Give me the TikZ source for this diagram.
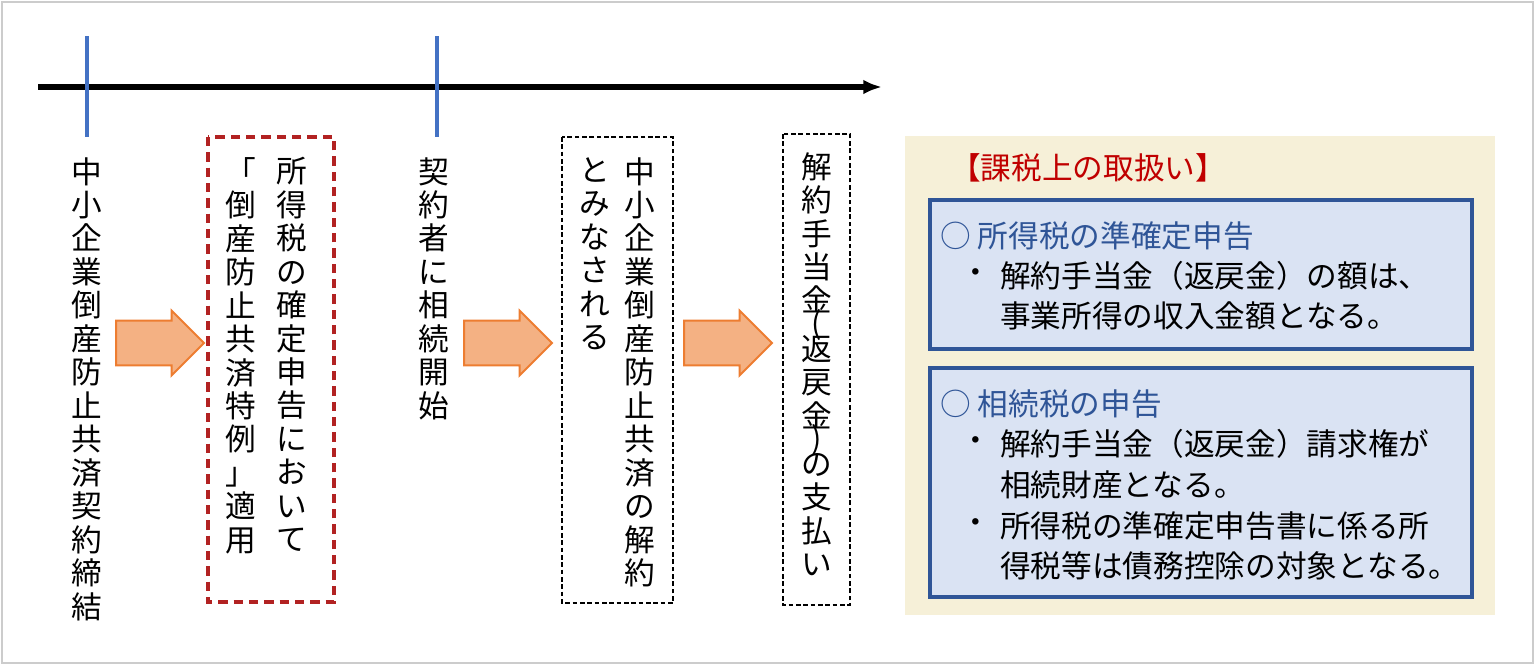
\documentclass[tikz,border=0pt]{standalone}
\usepackage{fontspec}
\setmainfont{Noto Sans CJK JP}
\usetikzlibrary{shapes.arrows,arrows.meta}
\definecolor{org}{HTML}{ED7D31}
\definecolor{orgf}{HTML}{F4B183}
\definecolor{tblue}{HTML}{4472C4}
\definecolor{dred}{HTML}{B22222}
\definecolor{beige}{HTML}{F6F0D8}
\definecolor{bfill}{HTML}{DAE3F3}
\definecolor{bbord}{HTML}{2F5597}
\definecolor{titred}{HTML}{C00000}
\begin{document}
\begin{tikzpicture}[x=0.75pt,y=-0.75pt,
  vt/.style={anchor=north,inner sep=0pt,align=center,font=\fontsize{23}{25.1}\selectfont},
  ht/.style={anchor=west,inner sep=0pt,font=\fontsize{23}{28}\selectfont},
  fat/.style={single arrow,draw=org,fill=orgf,line width=1.5pt,minimum width=47pt,minimum height=66pt,single arrow head extend=7.5pt,inner xsep=0pt,inner ysep=16pt,anchor=west},
  tk/.style={draw=tblue,line width=2.6pt},
  ibox/.style={draw=bbord,fill=bfill,line width=2.6pt},
  bdash/.style={line width=2.2pt,dash pattern=on 3.5pt off 2pt}]
\useasboundingbox (0,0) rectangle (1535,665);
\draw[gray!40,line width=0.8pt] (2,2) rectangle (1533,663);
% timeline
\coordinate (t0) at (38,87); \coordinate (t1) at (882,87);
\draw[line width=4pt,-{Latex[length=14pt,width=11pt]}] (t0) -- (t1);
\coordinate (k1a) at (87,36); \coordinate (k1b) at (87,137);
\coordinate (k2a) at (437,36); \coordinate (k2b) at (437,137);
\draw[tk] (k1a) -- (k1b);
\draw[tk] (k2a) -- (k2b);
% column 1
\node[vt] (c1) at (87,157) {中\\小\\企\\業\\倒\\産\\防\\止\\共\\済\\契\\約\\締\\結};
% box 2
\draw[draw=dred,line width=2.6pt,dash pattern=on 7pt off 4.5pt] (208,137) rectangle (334,602);
\node[vt] (c2a) at (292,157) {所\\得\\税\\の\\確\\定\\申\\告\\に\\お\\い\\て};
\node[vt] (c2b) at (241,157) {「\\倒\\産\\防\\止\\共\\済\\特\\例\\」\\適\\用};
% column 3
\node[vt] (c3) at (434,157) {契\\約\\者\\に\\相\\続\\開\\始};
% box 4
\draw[bdash] (562,137) rectangle (673,603);
\node[vt] (c4a) at (640,157) {中\\小\\企\\業\\倒\\産\\防\\止\\共\\済\\の\\解\\約};
\node[vt] (c4b) at (595,157) {と\\み\\な\\さ\\れ\\る};
% box 5
\draw[bdash] (783,134) rectangle (850,605);
\node[vt] (c5) at (817,152) {解\\約\\手\\当\\金\\[-8pt](\\[-6pt]返\\戻\\金\\[-8pt])\\[-6pt]の\\支\\払\\い};
% arrows
\node[fat] (a1) at (115,343) {};
\node[fat] (a2) at (463,343) {};
\node[fat] (a3) at (683,343) {};
% panel
\fill[beige] (905,136) rectangle (1495,615);
\node[ht,text=titred] (ti) at (950,168) {【課税上の取扱い】};
\draw[ibox] (930,200) rectangle (1472,349);
\node[ht,text=bbord] (h1) at (940,236) {○ 所得税の準確定申告};
\node[ht] (b1) at (960,276) {・};
\node[ht] (l1) at (1000,276) {解約手当金（返戻金）の額は、};
\node[ht] (l2) at (1000,316) {事業所得の収入金額となる。};
\draw[ibox] (930,368) rectangle (1472,597);
\node[ht,text=bbord] (h2) at (940,404) {○ 相続税の申告};
\node[ht] (b2) at (960,444) {・};
\node[ht] (l3) at (1000,444) {解約手当金（返戻金）請求権が};
\node[ht] (l4) at (1000,485) {相続財産となる。};
\node[ht] (b3) at (960,526) {・};
\node[ht] (l5) at (1000,526) {所得税の準確定申告書に係る所};
\node[ht] (l6) at (1000,566) {得税等は債務控除の対象となる。};
\end{tikzpicture}
\end{document}
